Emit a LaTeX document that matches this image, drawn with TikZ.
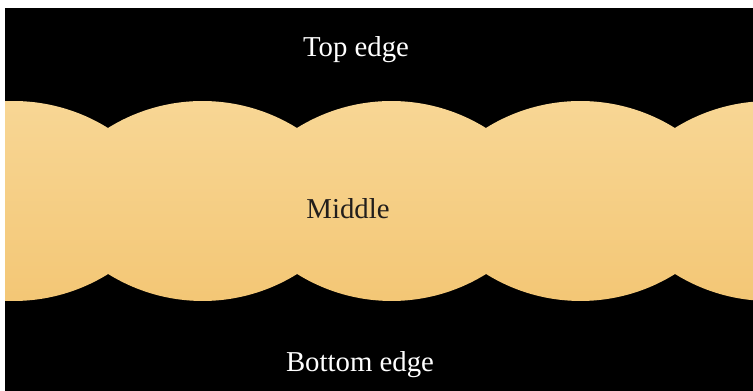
\documentclass[tikz,border=0pt]{standalone}
\usepackage{fontspec}
\setmainfont{Liberation Serif}
\definecolor{bandtop}{RGB}{248,215,150}
\definecolor{bandbot}{RGB}{243,198,116}
\definecolor{midtext}{RGB}{34,30,28}
\begin{document}
\begin{tikzpicture}[x=0.75pt,y=0.75pt,
    lbl/.style={anchor=base,inner sep=0pt,font=\fontsize{21.6}{26}\selectfont}]
        \useasboundingbox (0,0) rectangle (753,391);
        \fill[black] (5,0) rectangle (753,383);
        \begin{scope}
        \clip (5,0) rectangle (753,383);
        % scalloped band: arcs on top, arcs below
        \shade[top color=bandtop,bottom color=bandbot] (-81,263)
            \foreach \c in {1,...,5}{arc[start angle=121.88,end angle=58.12,radius=178.9]}
            -- (864,117)
            \foreach \c in {1,...,5}{arc[start angle=-58.12,end angle=-121.88,radius=178.9]}
            -- cycle;
        \end{scope}
        \node[lbl,text=white] (top) at (356,334.3) {Top edge};
        \node[lbl,text=midtext] (mid) at (348,172.7) {Middle};
        \node[lbl,text=white] (bot) at (360,19.3) {Bottom edge};
    \end{tikzpicture}
\end{document}
